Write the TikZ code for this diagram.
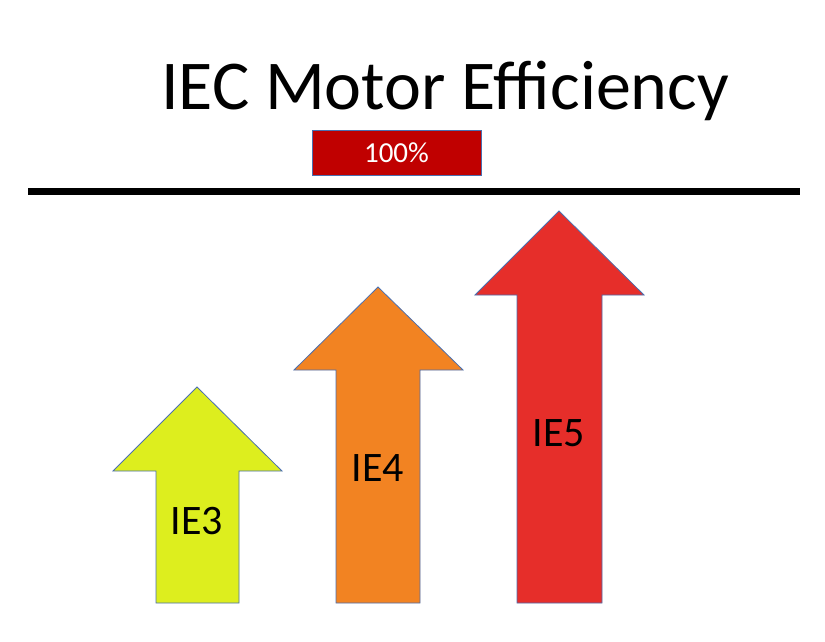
\documentclass[tikz,border=0pt]{standalone}
\usepackage{fontspec}
\setmainfont{Carlito}
\definecolor{ieyellow}{HTML}{DDEE1E}
\definecolor{ieorange}{HTML}{F28322}
\definecolor{iered}{HTML}{E62E2A}
\definecolor{boxred}{HTML}{C00000}
\definecolor{edgeblue}{HTML}{4A6FB0}
\begin{document}
\begin{tikzpicture}[x=1pt,y=-1pt,
  arrowshape/.style={draw=edgeblue,line width=0.8pt,line join=miter},
  lbl/.style={font=\fontsize{42}{50}\selectfont,text=black,inner sep=0pt}]
\useasboundingbox (0,0) rectangle (825,642);
\fill[white] (0,0) rectangle (825,642);
% title
\node[anchor=base,inner sep=0pt,font=\fontsize{70}{84}\selectfont] (title) at (445,110) {IEC Motor Efficiency};
% 100% box
\node[draw=edgeblue,line width=0.8pt,fill=boxred,text=white,minimum width=169pt,minimum height=45pt,inner sep=0pt,font=\fontsize{29}{34}\selectfont] (full) at (396.5,152.5) {100\%};
% black line
\coordinate (lineL) at (28,191);
\coordinate (lineR) at (800,191);
\draw[line width=7pt] (lineL) -- (lineR);
% IE3
\draw[arrowshape,fill=ieyellow] (197,387) -- (282,471) -- (239,471) -- (239,603) -- (156,603) -- (156,471) -- (113,471) -- cycle;
\node[lbl] (ie3) at (197,521) {IE3};
% IE4
\draw[arrowshape,fill=ieorange] (378,287) -- (463,370) -- (420,370) -- (420,603) -- (336,603) -- (336,370) -- (294,370) -- cycle;
\node[lbl] (ie4) at (378,468) {IE4};
% IE5
\draw[arrowshape,fill=iered] (559,211) -- (644,295) -- (602,295) -- (602,603) -- (517,603) -- (517,295) -- (475,295) -- cycle;
\node[lbl] (ie5) at (559,433) {IE5};
\end{tikzpicture}
\end{document}
